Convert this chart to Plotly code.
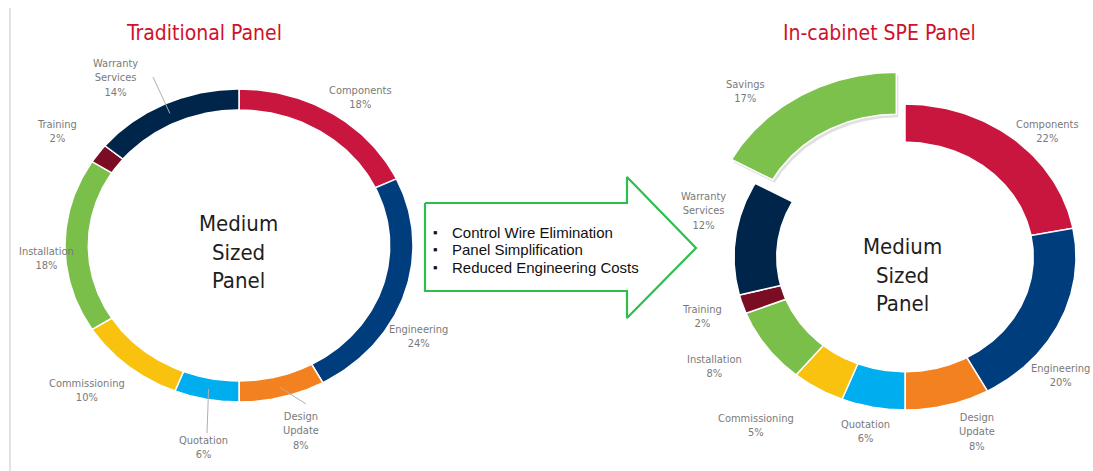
import numpy as np
import plotly.graph_objects as go

# ---------------- data ----------------
left_categories = ["Components", "Engineering", "Design Update", "Quotation",
                   "Commissioning", "Installation", "Training", "Warranty Services"]
left_values = [18, 24, 8, 6, 10, 18, 2, 14]

right_categories = ["Components", "Engineering", "Design Update", "Quotation",
                    "Commissioning", "Installation", "Training", "Warranty Services", "Savings"]
right_values = [22, 20, 8, 6, 5, 8, 2, 12, 17]

left_title = "Traditional Panel"
right_title = "In-cabinet SPE Panel"
center_text = "Medium<br>Sized<br>Panel"
arrow_points = ["Control Wire Elimination", "Panel Simplification", "Reduced Engineering Costs"]

# ---------------- style ----------------
colors = {
    "Components": "#C8163E",
    "Engineering": "#003D7C",
    "Design Update": "#F4811F",
    "Quotation": "#00AEEF",
    "Commissioning": "#F8C20E",
    "Installation": "#79BF4A",
    "Training": "#7A0C23",
    "Warranty Services": "#00254A",
    "Savings": "#7BC14C",
}
COND = "Liberation Sans Narrow, DejaVu Sans Condensed, Roboto Condensed, Roboto, sans-serif"
LABEL_COLOR = "#7a7a7a"

# donut geometry (pixel space)
L = dict(cx=239, cy=245.5, rx=174, ry=156.5, hole=0.866)
R = dict(cx=905, cy=257, rx=171, ry=153, hole=0.75)
PULLED = "Savings"
PULL = 0.125      # outward shift along bisector (fraction of radius)
PULL_SCALE = 1.10  # pulled slice drawn slightly larger

# label positions (text centre) and optional leader anchors
left_label_pos = {
    "Components": (360, 97), "Engineering": (418, 336), "Design Update": (301, 431),
    "Quotation": (203, 447), "Commissioning": (87, 390), "Installation": (46, 258),
    "Training": (57, 131), "Warranty Services": (115, 78),
}
left_leaders = {"Warranty Services": (153, 77), "Design Update": (306, 404), "Quotation": (207, 433)}
right_label_pos = {
    "Components": (1047, 131), "Engineering": (1060, 375), "Design Update": (977, 432),
    "Quotation": (865, 431), "Commissioning": (756, 425), "Installation": (714, 366),
    "Training": (702, 316), "Warranty Services": (703, 211), "Savings": (745, 91),
}

fig = go.Figure()


def ring_slices(cats, vals, g, pulled=None):
    total = float(sum(vals))
    start = 0.0
    mids = {}
    for cat, v in zip(cats, vals):
        end = start + v / total * 360.0
        t = np.radians(np.linspace(start, end, 80))
        cx, cy, rx, ry, h = g["cx"], g["cy"], g["rx"], g["ry"], g["hole"]
        if cat == pulled:
            mid = np.radians((start + end) / 2)
            cx = cx + PULL * rx * np.sin(mid) * 0.8
            cy = cy - PULL * ry * np.cos(mid)
            rx, ry = rx * PULL_SCALE, ry * PULL_SCALE
        xo = cx + rx * np.sin(t)
        yo = cy - ry * np.cos(t)
        xi = cx + rx * h * np.sin(t[::-1])
        yi = cy - ry * h * np.cos(t[::-1])
        xs = np.concatenate([xo, xi, xo[:1]])
        ys = np.concatenate([yo, yi, yo[:1]])
        if cat == pulled:
            fig.add_trace(go.Scatter(x=xs + 2, y=ys + 3, mode="lines", fill="toself",
                                     fillcolor="rgba(0,0,0,0.12)", line=dict(width=0),
                                     hoverinfo="skip", showlegend=False))
        fig.add_trace(go.Scatter(x=xs, y=ys, mode="lines", fill="toself",
                                 fillcolor=colors[cat], line=dict(color="white", width=1.5),
                                 name=cat, hoverinfo="name", showlegend=False))
        m = np.radians((start + end) / 2)
        rm = (1 + h) / 2
        mids[cat] = (cx + rx * rm * np.sin(m), cy - ry * rm * np.cos(m))
        start = end
    return mids


left_mids = ring_slices(left_categories, left_values, L)
right_mids = ring_slices(right_categories, right_values, R, pulled=PULLED)

annotations = []


def add_labels(cats, vals, pos, mids, leaders=None):
    for cat, v in zip(cats, vals):
        x, y = pos[cat]
        txt = cat.replace(" ", "<br>") + "<br>" + f"{v}%"
        annotations.append(dict(x=x, y=y, xref="x", yref="y", text=txt, showarrow=False,
                                font=dict(family=COND, size=11, color=LABEL_COLOR),
                                align="center", xanchor="center", yanchor="middle"))
        if leaders and cat in leaders:
            ax, ay = leaders[cat]
            mx, my = mids[cat]
            fig.add_trace(go.Scatter(x=[ax, mx], y=[ay, my], mode="lines",
                                     line=dict(color="#b0b0b0", width=1),
                                     hoverinfo="skip", showlegend=False))


add_labels(left_categories, left_values, left_label_pos, left_mids, left_leaders)
add_labels(right_categories, right_values, right_label_pos, right_mids)

# titles
annotations.append(dict(x=204, y=33, xref="x", yref="y", text=left_title, showarrow=False,
                        font=dict(family=COND, size=21, color="#D0112B")))
annotations.append(dict(x=879, y=33, xref="x", yref="y", text=right_title, showarrow=False,
                        font=dict(family=COND, size=21, color="#D0112B")))
# centre texts
annotations.append(dict(x=238, y=252, xref="x", yref="y", text=center_text, showarrow=False,
                        font=dict(family=COND, size=22, color="#1e1e1e"), align="center"))
annotations.append(dict(x=902, y=275, xref="x", yref="y", text=center_text, showarrow=False,
                        font=dict(family=COND, size=22, color="#1e1e1e"), align="center"))

# arrow shape
ax_ = [425, 627, 627, 696, 627, 627, 425, 425]
ay_ = [203, 203, 177, 248, 318, 291, 291, 203]
fig.add_trace(go.Scatter(x=ax_, y=ay_, mode="lines", fill="toself", fillcolor="white",
                         line=dict(color="#2DBE4E", width=2.2), hoverinfo="skip", showlegend=False))
for i, t in enumerate(arrow_points):
    yy = 232 + i * 17.5
    annotations.append(dict(x=435, y=yy, xref="x", yref="y", text="▪", showarrow=False,
                            xanchor="center", font=dict(family="Liberation Sans, Arial", size=13, color="#111")))
    annotations.append(dict(x=450, y=yy, xref="x", yref="y", text=t, showarrow=False,
                            xanchor="left", font=dict(family="Liberation Sans, Arial", size=15, color="#111")))

fig.update_layout(
    width=1093, height=471,
    margin=dict(l=0, r=0, t=0, b=0),
    paper_bgcolor="white", plot_bgcolor="white",
    xaxis=dict(range=[0, 1093], visible=False, fixedrange=True),
    yaxis=dict(range=[471, 0], visible=False, fixedrange=True),
    annotations=annotations,
    shapes=[dict(type="line", xref="x", yref="y", x0=10, x1=10, y0=8, y1=471,
                 line=dict(color="#d9d9d9", width=1.5))],
)

fig.write_html("out.html")
